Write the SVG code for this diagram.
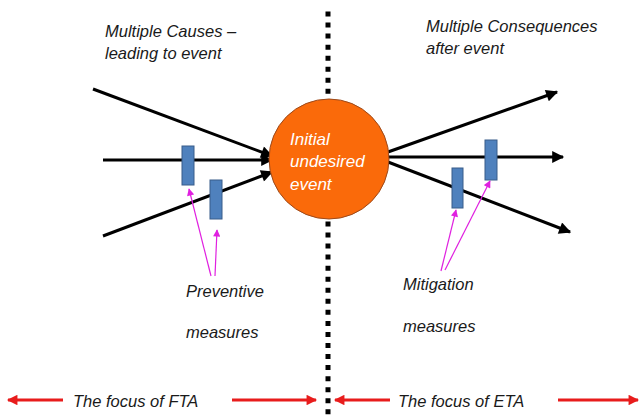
<svg xmlns="http://www.w3.org/2000/svg" width="639" height="417" viewBox="0 0 639 417">
<defs>
<style>
.t{font-family:"Liberation Sans",Arial,sans-serif;font-style:italic;font-size:16.5px;fill:#1a1a1a}
.w{font-family:"Liberation Sans",Arial,sans-serif;font-style:italic;font-size:17px;fill:#ffffff}
.blk{stroke:#000;stroke-width:3;fill:none;marker-end:url(#ah)}
.mg{stroke:#e020e0;stroke-width:1.2;fill:none;marker-end:url(#mh)}
.red{stroke:#e81c1c;stroke-width:3;fill:none;marker-end:url(#rh)}
.bar{fill:#4f81bd;stroke:#385d8a;stroke-width:1}
</style>
<marker id="ah" viewBox="0 0 10 10" refX="9" refY="5" markerWidth="4.5" markerHeight="4" orient="auto" markerUnits="strokeWidth"><path d="M0,0 L10,5 L0,10 z" fill="#000"/></marker>
<marker id="mh" viewBox="0 0 10 10" refX="9" refY="5" markerWidth="7" markerHeight="6" orient="auto" markerUnits="strokeWidth"><path d="M0,0 L10,5 L0,10 z" fill="#e020e0"/></marker>
<marker id="rh" viewBox="0 0 10 10" refX="9" refY="5" markerWidth="4" markerHeight="3.5" orient="auto" markerUnits="strokeWidth"><path d="M0,0 L10,5 L0,10 z" fill="#e81c1c"/></marker>
</defs>
<rect width="639" height="417" fill="#fff"/>
<g id="divider"><line x1="328" y1="11.5" x2="328" y2="415" stroke="#000" stroke-width="5" stroke-dasharray="5 6.05"/></g>
<g id="connectors">
<line class="blk" x1="93" y1="89" x2="272" y2="156"/>
<line class="blk" x1="103" y1="160" x2="272" y2="160"/>
<line class="blk" x1="103" y1="236" x2="272" y2="172"/>
<line class="blk" x1="388" y1="152" x2="557" y2="92"/>
<line class="blk" x1="388" y1="157" x2="563" y2="157"/>
<line class="blk" x1="388" y1="162" x2="570" y2="232"/>
<line class="mg" x1="211" y1="276" x2="189" y2="189"/>
<line class="mg" x1="215" y1="276" x2="217" y2="230"/>
<line class="mg" x1="441" y1="271" x2="456" y2="210"/>
<line class="mg" x1="445" y1="270" x2="490" y2="181"/>
<line class="red" x1="63" y1="400" x2="8" y2="400"/>
<line class="red" x1="232" y1="400" x2="316" y2="400"/>
<line class="red" x1="390" y1="400" x2="335" y2="400"/>
<line class="red" x1="558" y1="400" x2="638" y2="400"/>
</g>
<g id="event">
<circle cx="329" cy="159" r="60" fill="#fa6a0a" stroke="#9c4a1c" stroke-width="1"/>
<text class="w" x="290" y="145">Initial</text>
<text class="w" x="290" y="167">undesired</text>
<text class="w" x="290" y="190">event</text>
</g>
<g id="preventive1"><rect class="bar" x="182" y="146" width="12" height="39"/></g>
<g id="preventive2"><rect class="bar" x="210" y="180" width="12" height="39"/></g>
<g id="mitigation1"><rect class="bar" x="452" y="168" width="11" height="40"/></g>
<g id="mitigation2"><rect class="bar" x="485" y="140" width="12" height="40"/></g>
<g id="causes"><text class="t" x="105" y="37">Multiple Causes –</text><text class="t" x="105" y="59">leading to event</text></g>
<g id="consequences"><text class="t" x="426" y="32">Multiple Consequences</text><text class="t" x="426" y="54">after event</text></g>
<g id="prev-label"><text class="t" x="186" y="297">Preventive</text><text class="t" x="186" y="338">measures</text></g>
<g id="mit-label"><text class="t" x="403" y="290">Mitigation</text><text class="t" x="403" y="332">measures</text></g>
<g id="fta"><text class="t" x="73" y="407">The focus of FTA</text></g>
<g id="eta"><text class="t" x="398" y="407">The focus of ETA</text></g>
</svg>
